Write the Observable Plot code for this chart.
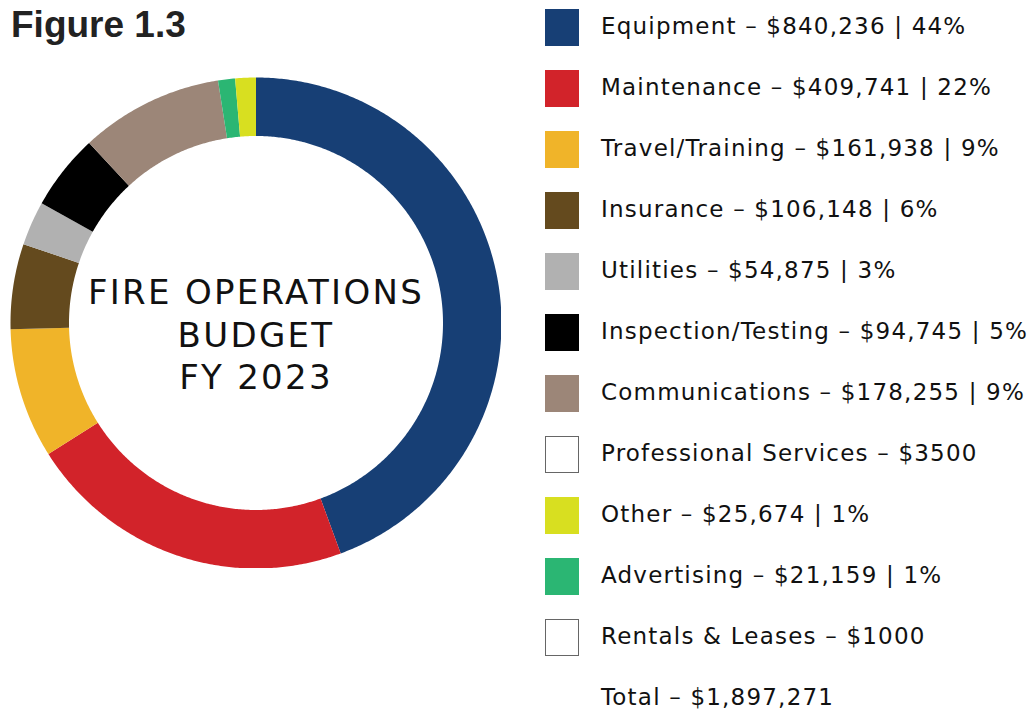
<!DOCTYPE html>
<html><head><meta charset="utf-8">
<script src="https://cdn.jsdelivr.net/npm/d3@7"></script>
<script src="https://cdn.jsdelivr.net/npm/@observablehq/plot@0.6"></script>
<style>
body{margin:0;width:1028px;height:715px;position:relative;background:#fff;overflow:hidden;font-family:"DejaVu Sans",sans-serif;color:#111;}
#title{position:absolute;left:11px;top:4px;font:bold 37px "Liberation Sans",Arial,sans-serif;color:#222;line-height:42px;}
#chart{position:absolute;left:9.5px;top:77px;}
#chart text{letter-spacing:2.3px;}
#legend{position:absolute;left:545px;top:0;width:483px;height:715px;}
.row{position:absolute;left:0;height:55px;width:483px;}
.sw{position:absolute;left:0;top:9px;width:34px;height:37px;box-sizing:border-box;}
.sw.empty{border:1.5px solid #666;background:#fff;}
.lab{position:absolute;left:56px;top:0;line-height:53px;font-size:23px;letter-spacing:1.2px;white-space:nowrap;}
</style>
</head><body>
<div id="title">Figure 1.3</div>
<div id="chart"></div>
<div id="legend"></div>
<script>
// ---- data ----
const categories = ["Equipment","Maintenance","Travel/Training","Insurance","Utilities","Inspection/Testing","Communications","Professional Services","Other","Advertising","Rentals & Leases"];
const amounts = [840236,409741,161938,106148,54875,94745,178255,3500,25674,21159,1000];
const amountLabels = ["$840,236","$409,741","$161,938","$106,148","$54,875","$94,745","$178,255","$3500","$25,674","$21,159","$1000"];
const percentLabels = ["44%","22%","9%","6%","3%","5%","9%",null,"1%","1%",null];
const colors = ["#173f75","#d2232a","#f0b429","#644a1e","#b1b1b1","#000000","#9c8678","#ffffff","#d8df20","#2bb673","#ffffff"];
// slices drawn in the ring, clockwise from 12 o'clock (white, unpercented items are not visible in the ring)
const donutOrder = ["Equipment","Maintenance","Travel/Training","Insurance","Utilities","Inspection/Testing","Communications","Advertising","Other"];
const totalLabel = "Total – $1,897,271";
const centerTitle = "FIRE OPERATIONS\nBUDGET\nFY 2023";

// ---- donut geometry (via geo projection) ----
const ringValues = donutOrder.map(cat => amounts[categories.indexOf(cat)]);
const total = d3.sum(ringValues);
const R_OUT = 60, R_IN = 60 * 187 / 245.5;
let cum = 0;
const slices = donutOrder.map((cat, j) => {
  const v = ringValues[j];
  const a0 = cum / total * 360; cum += v; const a1 = cum / total * 360;
  const n = Math.max(2, Math.ceil((a1 - a0) / 0.5));
  const ring = [];
  for (let k = 0; k <= n; k++) { const a = a0 + (a1 - a0) * k / n; ring.push([180 - a, 90 - R_OUT]); }
  for (let k = n; k >= 0; k--) { const a = a0 + (a1 - a0) * k / n; ring.push([180 - a, 90 - R_IN]); }
  ring.push(ring[0]);
  return {type: "Feature", properties: {category: cat}, geometry: {type: "Polygon", coordinates: [ring]}};
});

const chart = Plot.plot({
  width: 491, height: 491, margin: 0,
  projection: {type: "azimuthal-equidistant", rotate: [0, -90], domain: d3.geoCircle().center([0, 90]).radius(R_OUT)(), inset: 0},
  color: {domain: categories, range: colors},
  marks: [
    Plot.geo(slices, {fill: d => d.properties.category}),
    Plot.text([centerTitle], {frameAnchor: "middle", text: d => d, dy: 10, fontSize: 34, lineHeight: 1.25, fontFamily: "DejaVu Sans", fill: "#111"})
  ]
});
document.getElementById("chart").append(chart);

// ---- legend ----
const legend = document.getElementById("legend");
categories.forEach((cat, i) => {
  const row = document.createElement("div"); row.className = "row"; row.style.top = (61 * i) + "px";
  const sw = document.createElement("div"); sw.className = "sw" + (colors[i] === "#ffffff" ? " empty" : "");
  if (colors[i] !== "#ffffff") sw.style.background = colors[i];
  const lab = document.createElement("div"); lab.className = "lab";
  lab.textContent = `${cat} – ${amountLabels[i]}` + (percentLabels[i] ? ` | ${percentLabels[i]}` : "");
  row.append(sw, lab); legend.append(row);
});
const trow = document.createElement("div"); trow.className = "row"; trow.style.top = (61 * categories.length) + "px";
const tlab = document.createElement("div"); tlab.className = "lab"; tlab.textContent = totalLabel;
trow.append(tlab); legend.append(trow);
</script>
</body></html>
